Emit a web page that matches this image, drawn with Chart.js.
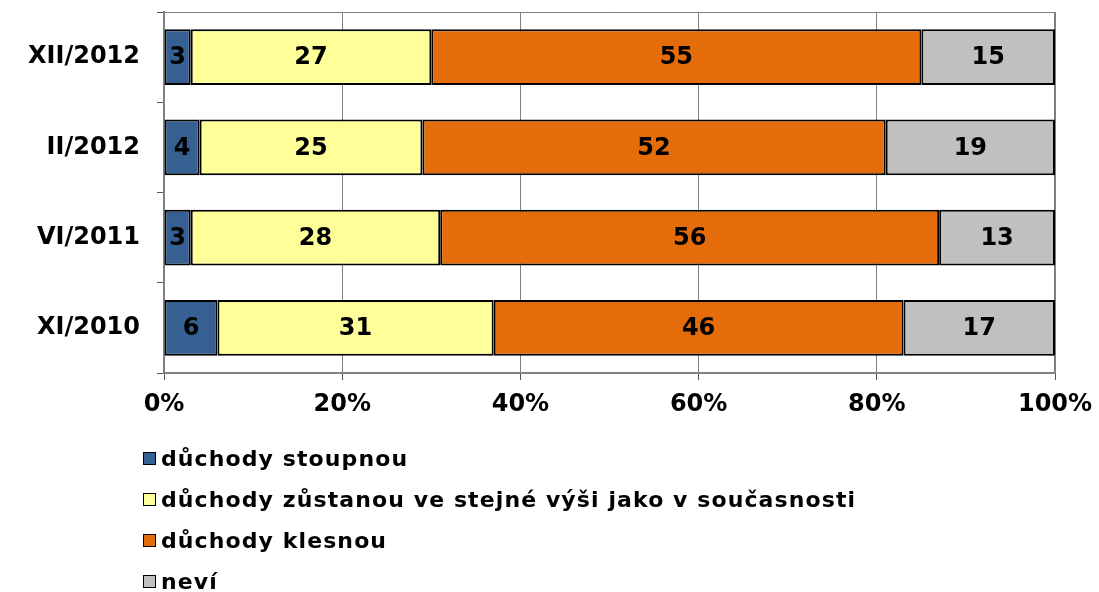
<!DOCTYPE html>
<html>
<head>
<meta charset="utf-8">
<script src="https://cdn.jsdelivr.net/npm/chart.js@4/dist/chart.umd.min.js"></script>
<style>
  body { margin: 0; background: #fff; }
  #wrap { position: relative; width: 1099px; height: 592px; }
  #legend { position: absolute; left: 143px; top: 438px; font: bold 22px "DejaVu Sans", Verdana, sans-serif; letter-spacing: 1.1px; color: #000; }
  .item { height: 41px; display: flex; align-items: center; }
  .box { width: 11px; height: 11px; border: 1.5px solid #000; margin-right: 5px; }
</style>
</head>
<body>
<div id="wrap">
  <canvas id="c" width="1099" height="592"></canvas>
  <div id="legend"></div>
</div>
<script>
// data
const categories = ["XII/2012", "II/2012", "VI/2011", "XI/2010"];
const seriesNames = [
  "důchody stoupnou",
  "důchody zůstanou ve stejné výši jako v současnosti",
  "důchody klesnou",
  "neví"
];
const rise = [3, 4, 3, 6];
const same = [27, 25, 28, 31];
const fall = [55, 52, 56, 46];
const dunno = [15, 19, 13, 17];
const xTickValues = [0, 20, 40, 60, 80, 100];

const colors = ["#376092", "#FFFF99", "#E46C0A", "#C0C0C0"];
const FONT = "DejaVu Sans";

// black labels in the middle of every segment
const valueLabels = {
  id: "valueLabels",
  afterDatasetsDraw(chart) {
    const ctx = chart.ctx;
    ctx.save();
    ctx.font = "bold 24px '" + FONT + "'";
    ctx.fillStyle = "#000";
    ctx.textAlign = "center";
    ctx.textBaseline = "middle";
    chart.data.datasets.forEach((ds, i) => {
      chart.getDatasetMeta(i).data.forEach((bar, j) => {
        const p = bar.getProps(["x", "y", "base"], true);
        ctx.fillText(ds.data[j], (p.x + p.base) / 2, p.y + 1);
      });
    });
    ctx.restore();
  }
};

// gray frame round the plot area (top + right edge)
const plotFrame = {
  id: "plotFrame",
  beforeDatasetsDraw(chart) {
    const { ctx, chartArea: a } = chart;
    ctx.save();
    ctx.strokeStyle = "#808080";
    ctx.lineWidth = 1;
    ctx.beginPath();
    ctx.moveTo(a.left, a.top + 0.5);
    ctx.lineTo(a.right - 0.5, a.top + 0.5);
    ctx.lineTo(a.right - 0.5, a.bottom);
    ctx.stroke();
    ctx.restore();
  }
};

const series = [rise, same, fall, dunno];

new Chart(document.getElementById("c"), {
  type: "bar",
  data: {
    labels: categories,
    datasets: series.map((vals, i) => ({
      label: seriesNames[i],
      data: vals,
      backgroundColor: colors[i],
      borderColor: "#000",
      borderWidth: 2,
      borderSkipped: false,
      barPercentage: 0.62,
      categoryPercentage: 1
    }))
  },
  options: {
    indexAxis: "y",
    responsive: false,
    animation: false,
    layout: { padding: { left: 0, top: 12, right: 44, bottom: 169 } },
    plugins: {
      legend: { display: false },
      tooltip: { enabled: false }
    },
    scales: {
      x: {
        stacked: true,
        min: 0,
        max: 100,
        afterBuildTicks: (axis) => { axis.ticks = xTickValues.map(v => ({ value: v })); },
        afterFit: (axis) => {
          axis.height = 50;
          axis.paddingLeft = 0;
          axis.paddingRight = 0;
        },
        border: { color: "#808080", width: 2 },
        grid: { color: "#808080", lineWidth: 1, tickLength: 7, tickColor: "#555" },
        ticks: {
          padding: 10,
          color: "#000",
          font: { family: FONT, size: 24, weight: "bold" },
          callback: (v) => v + "%",
          maxRotation: 0
        }
      },
      y: {
        stacked: true,
        afterFit: (axis) => {
          axis.width = 164;
          axis.paddingTop = 0;
          axis.paddingBottom = 0;
        },
        border: { color: "#808080", width: 2 },
        grid: { drawOnChartArea: false, tickLength: 7, tickColor: "#555", offset: true },
        ticks: {
          padding: 17,
          color: "#000",
          font: { family: FONT, size: 24, weight: "bold" }
        }
      }
    }
  },
  plugins: [plotFrame, valueLabels]
});

// legend, one item per row like the original
const legend = document.getElementById("legend");
seriesNames.forEach((name, i) => {
  const item = document.createElement("div");
  item.className = "item";
  const box = document.createElement("span");
  box.className = "box";
  box.style.background = colors[i];
  const txt = document.createElement("span");
  txt.textContent = name;
  item.appendChild(box);
  item.appendChild(txt);
  legend.appendChild(item);
});
</script>
</body>
</html>
